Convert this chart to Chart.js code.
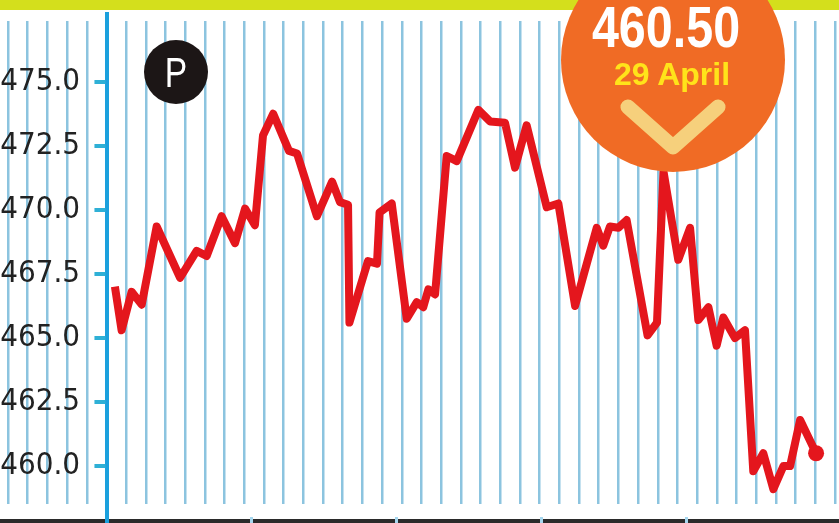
<!DOCTYPE html>
<html>
<head>
<meta charset="utf-8">
<script src="https://cdn.jsdelivr.net/npm/chart.js@4.4.1/dist/chart.umd.min.js"></script>
<style>
  html, body { margin: 0; padding: 0; background: #ffffff; }
  #wrap { position: relative; width: 839px; height: 523px; overflow: hidden; background: #ffffff; }
  #band { position: absolute; left: 0; top: 0; width: 839px; height: 10px; background: #d4df1c; }
  #bottomBand { position: absolute; left: 0; top: 519px; width: 839px; height: 4px; background: #2a2a2a; }
  #chart { position: absolute; left: 0; top: 0; z-index: 2; }
  #axisLine { position: absolute; left: 104.5px; top: 12px; width: 4px; height: 511px; background: #1ba0dd; z-index: 1; }
  #badge { position: absolute; left: 144px; top: 40px; width: 64px; height: 64px; border-radius: 50%; background: #1c1616; z-index: 3; }
  #badgeText { position: absolute; left: 155.5px; top: 52.4px; width: 40px; text-align: center; z-index: 4;
    font: 42px/42px "Liberation Sans", Arial, sans-serif; color: #ffffff; transform: scaleX(0.8); }
  #callout { position: absolute; left: 561px; top: -52px; width: 224px; height: 224px; border-radius: 50%; background: #f06b25; z-index: 3; }
  #priceText { position: absolute; left: 566px; top: -2.4px; width: 200px; text-align: center; z-index: 4;
    font: bold 58px/58px "Liberation Sans", Arial, sans-serif; color: #ffffff; transform: scaleX(0.835); }
  #dateText { position: absolute; left: 572px; top: 57.9px; width: 200px; text-align: center; z-index: 4;
    font: bold 32px/32px "Liberation Sans", Arial, sans-serif; color: #ffe31a; }
  #chevron { position: absolute; left: 0; top: 0; z-index: 4; }
</style>
</head>
<body>
<div id="wrap">
  <div id="band"></div>
  <div id="bottomBand"></div>
  <div id="axisLine"></div>
  <canvas id="chart" width="839" height="523"></canvas>
  <div id="badge"></div>
  <div id="badgeText">P</div>
  <div id="callout"></div>
  <svg id="chevron" width="839" height="200" viewBox="0 0 839 200">
    <polyline points="628,107 673,147 718,107" fill="none" stroke="#f6d07c" stroke-width="15" stroke-linecap="round" stroke-linejoin="round"/>
  </svg>
  <div id="priceText">460.50</div>
  <div id="dateText">29 April</div>
</div>
<script>
// ---- data ----
const sessionPos = [
  0.43, 0.77, 1.28, 1.79, 2.55, 3.74, 4.58, 5.09, 5.85, 6.53,
  7.04, 7.54, 7.95, 8.47, 9.27, 9.68, 10.69, 11.46, 11.86, 12.27,
  12.34, 13.28, 13.74, 13.87, 14.49, 15.25, 15.76, 16.09, 16.35, 16.69,
  17.28, 17.79, 18.89, 19.48, 20.24, 20.75, 21.34, 22.36, 22.95, 23.80,
  24.90, 25.23, 25.57, 26.00, 26.42, 27.48, 27.96, 28.29, 29.04, 29.64,
  30.06, 30.57, 30.99, 31.33, 31.92, 32.43, 32.85, 33.36, 33.87, 34.38,
  34.72, 35.23, 36.04
];
const closePrice = [
  467.0, 465.3, 466.8, 466.3, 469.35, 467.35, 468.4, 468.2, 469.75, 468.7,
  470.05, 469.4, 472.9, 473.75, 472.3, 472.2, 469.75, 471.1, 470.3, 470.2,
  465.6, 468.0, 467.9, 469.9, 470.25, 465.75, 466.4, 466.2, 466.9, 466.7,
  472.1, 471.9, 473.9, 473.45, 473.4, 471.65, 473.3, 470.1, 470.25, 466.25,
  469.3, 468.6, 469.35, 469.3, 469.6, 465.1, 465.6, 471.5, 468.05, 469.3,
  465.7, 466.2, 464.7, 465.8, 465.0, 465.3, 459.8, 460.5, 459.1, 460.0,
  460.0, 461.8, 460.5
];
const yTicks = [460, 462.5, 465, 467.5, 470, 472.5, 475];
const monthTicks = [7.36, 14.72, 22.08, 29.44];

// ---- scale ranges ----
const X_MIN = -5.406, X_MAX = 37.204;
const Y_MIN = 458.52, Y_MAX = 477.37;
const LABEL_X = -1.343; // where the value labels end, in x units
const lastIdx = closePrice.length - 1;

// short tick marks just left of the value axis, placed through the chart's scales
const axisTickMarks = {
  id: 'axisTickMarks',
  afterDraw(chart) {
    const { ctx, scales } = chart;
    const x0 = scales.x.getPixelForValue(0);
    ctx.save();
    ctx.strokeStyle = '#2fb0d6';
    ctx.lineWidth = 4;
    yTicks.forEach(v => {
      const py = Math.round(scales.y.getPixelForValue(v));
      ctx.beginPath();
      ctx.moveTo(x0 - 12, py);
      ctx.lineTo(x0 - 1, py);
      ctx.stroke();
    });
    ctx.restore();
  }
};

new Chart(document.getElementById('chart'), {
  type: 'line',
  data: {
    datasets: [{
      data: sessionPos.map((x, i) => ({ x: x, y: closePrice[i] })),
      borderColor: '#e4161d',
      backgroundColor: '#e4161d',
      borderWidth: 8,
      borderJoinStyle: 'round',
      tension: 0,
      fill: false,
      pointRadius: ctx => ctx.dataIndex === lastIdx ? 8 : 0,
      pointBackgroundColor: '#e4161d',
      pointBorderWidth: 0,
      pointHoverRadius: 0
    }]
  },
  options: {
    responsive: false,
    animation: false,
    devicePixelRatio: 1,
    layout: { autoPadding: false, padding: { top: 21, left: 0, right: 0, bottom: 0 } },
    plugins: { legend: { display: false }, tooltip: { enabled: false } },
    scales: {
      x: {
        type: 'linear', position: 'bottom', min: X_MIN, max: X_MAX,
        afterBuildTicks: s => { const t = []; for (let v = -5; v <= 37; v++) { if (v !== 0) t.push({ value: v }); } s.ticks = t; },
        ticks: { display: false },
        grid: { color: '#8cc4df', lineWidth: 2.5, drawTicks: false },
        border: { display: false }
      },
      x2: {
        type: 'linear', position: 'bottom', min: X_MIN, max: X_MAX,
        afterBuildTicks: s => { s.ticks = monthTicks.map(v => ({ value: v })); },
        ticks: { display: false },
        grid: { drawOnChartArea: false, drawTicks: true, tickLength: 19, tickColor: '#a5d6ee', tickWidth: 3, tickBorderDash: [0, 13, 6, 100] },
        border: { display: false }
      },
      y: {
        type: 'linear', position: { x: 0 }, min: Y_MIN, max: Y_MAX,
        afterBuildTicks: s => { s.ticks = yTicks.map(v => ({ value: v })); },
        ticks: { display: false },
        grid: { display: false },
        border: { display: false }
      },
      y2: {
        type: 'linear', axis: 'y', position: { x: LABEL_X }, min: Y_MIN, max: Y_MAX,
        afterBuildTicks: s => { s.ticks = yTicks.map(v => ({ value: v })); },
        ticks: {
          callback: v => Number(v).toFixed(1),
          font: { family: "'Liberation Sans Narrow', 'DejaVu Sans Condensed', 'Liberation Sans', sans-serif", size: 31, lineHeight: 0.3 },
          color: '#222222', padding: 0, autoSkip: false
        },
        grid: { display: false, drawOnChartArea: false, drawTicks: false },
        border: { display: false }
      }
    }
  },
  plugins: [axisTickMarks]
});
</script>
</body>
</html>
